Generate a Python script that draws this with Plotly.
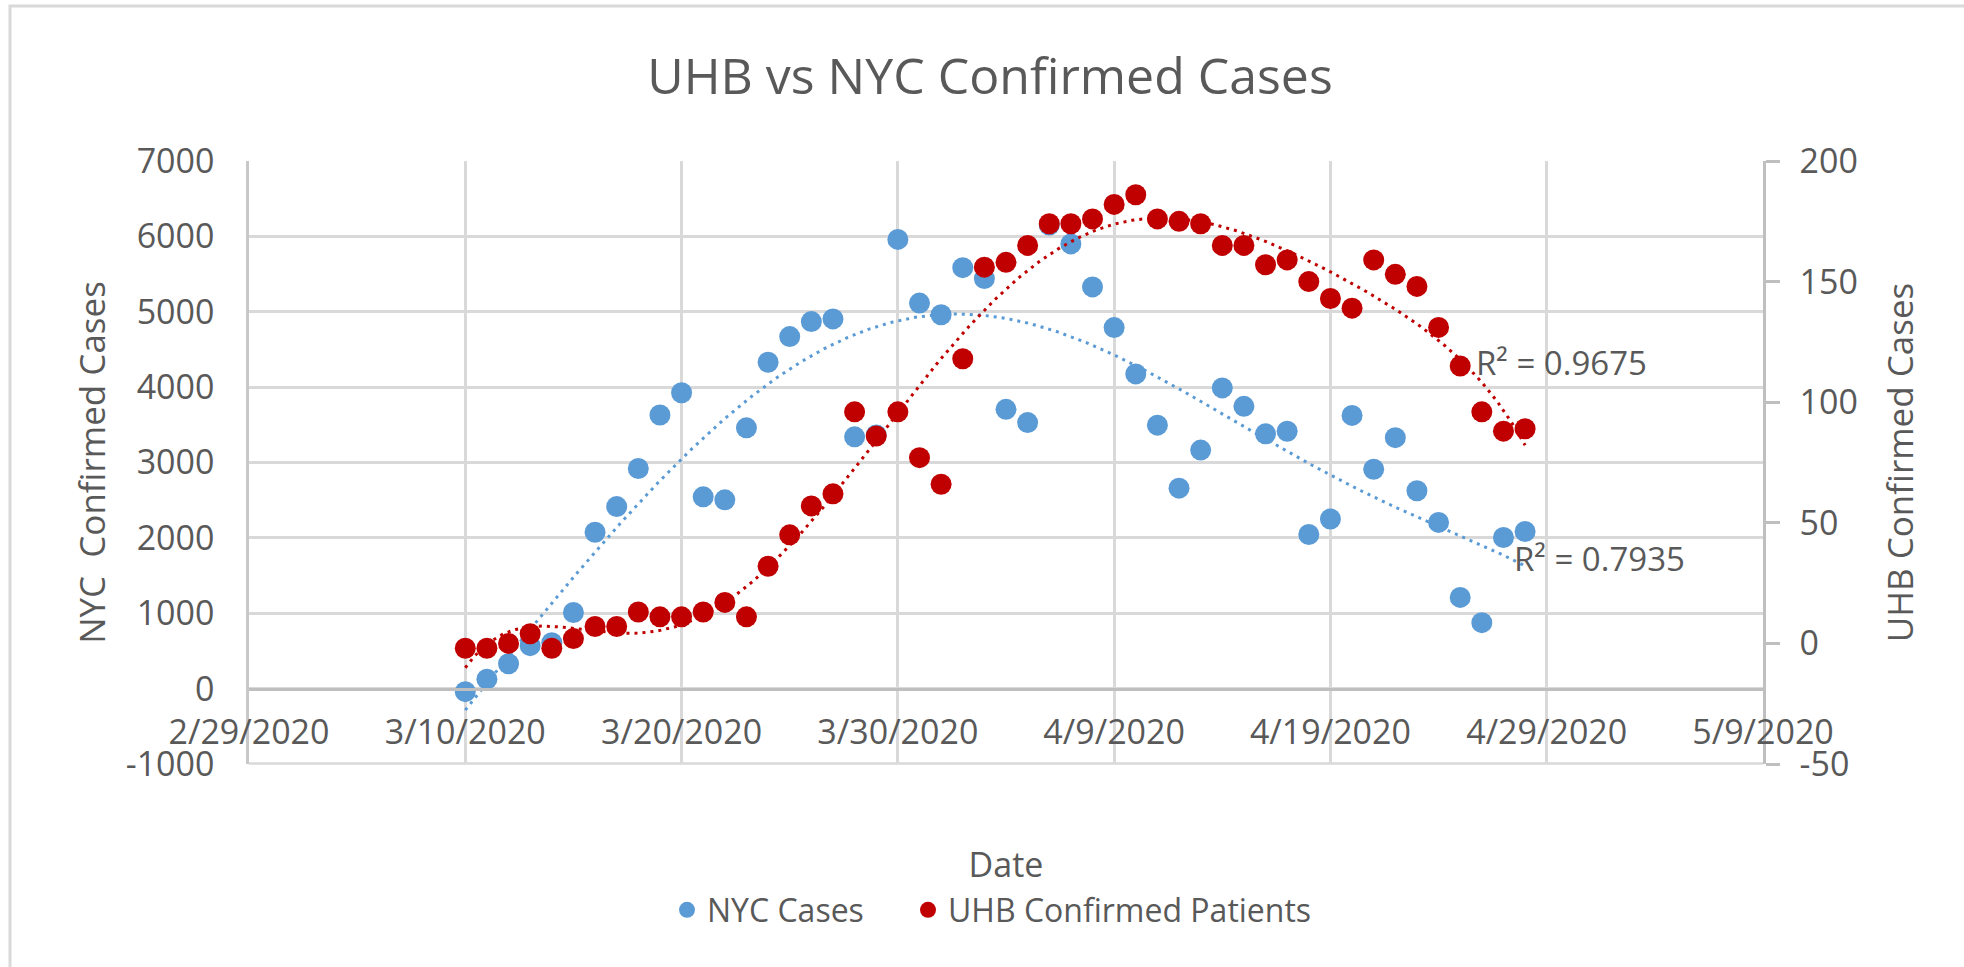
import numpy as np
import pandas as pd
import plotly.graph_objects as go

# ---------------- data ----------------
dates = [
    "2020-03-10", "2020-03-11", "2020-03-12", "2020-03-13", "2020-03-14", "2020-03-15",
    "2020-03-16", "2020-03-17", "2020-03-18", "2020-03-19", "2020-03-20", "2020-03-21",
    "2020-03-22", "2020-03-23", "2020-03-24", "2020-03-25", "2020-03-26", "2020-03-27",
    "2020-03-28", "2020-03-29", "2020-03-30", "2020-03-31", "2020-04-01", "2020-04-02",
    "2020-04-03", "2020-04-04", "2020-04-05", "2020-04-06", "2020-04-07", "2020-04-08",
    "2020-04-09", "2020-04-10", "2020-04-11", "2020-04-12", "2020-04-13", "2020-04-14",
    "2020-04-15", "2020-04-16", "2020-04-17", "2020-04-18", "2020-04-19", "2020-04-20",
    "2020-04-21", "2020-04-22", "2020-04-23", "2020-04-24", "2020-04-25", "2020-04-26",
    "2020-04-27", "2020-04-28",
]

nyc_cases = [
    -40, 125, 330, 570, 610, 1010, 2075, 2415, 2920, 3630, 3925, 2545,
    2505, 3460, 4330, 4670, 4870, 4905, 3340, 3365, 5960, 5115, 4960, 5585,
    5440, 3705, 3530, 6150, 5900, 5330, 4790, 4175, 3495, 2660, 3165, 3990,
    3745, 3380, 3415, 2045, 2250, 3625, 2910, 3330, 2625, 2205, 1210, 875,
    2005, 2085,
]

uhb_patients = [
    -2, -2, 0, 4, -2, 2, 7, 7, 13, 11, 11, 13,
    17, 11, 32, 45, 57, 62, 96, 86, 96, 77, 66, 118,
    156, 158, 165, 174, 174, 176, 182, 186, 176, 175, 174, 165,
    165, 157, 159, 150, 143, 139, 159, 153, 148, 131, 115, 96,
    88, 89,
]

x_tick_dates = ["2020-02-29", "2020-03-10", "2020-03-20", "2020-03-30",
                "2020-04-09", "2020-04-19", "2020-04-29", "2020-05-09"]
x_tick_labels = ["2/29/2020", "3/10/2020", "3/20/2020", "3/30/2020",
                 "4/9/2020", "4/19/2020", "4/29/2020", "5/9/2020"]

y_tick_vals = [-1000, 0, 1000, 2000, 3000, 4000, 5000, 6000, 7000]
y_tick_labels = ["-1000", "0", "1000", "2000", "3000", "4000", "5000", "6000", "7000"]
y2_tick_vals = [-50, 0, 50, 100, 150, 200]
y2_tick_labels = ["-50", "0", "50", "100", "150", "200"]

series_names = ["NYC Cases", "UHB Confirmed Patients"]
r2_texts = ["R\u00b2 = 0.9675", "R\u00b2 = 0.7935"]
trend_order = 6

BLUE = "#5B9BD5"
RED = "#C00000"
TXT = "#595959"
GRID = "#D9D9D9"
AXIS = "#BFBFBF"
FONT = "Open Sans"
TICK = 34

# ---------------- polynomial trendlines (as Excel does) ----------------
d = pd.to_datetime(dates)
t = np.asarray((d - d[0]).days, dtype=float)


def trend(y, order):
    y = np.asarray(y, dtype=float)
    c = np.polyfit(t, y, order)
    tt = np.linspace(t.min(), t.max(), 400)
    xx = d[0] + pd.to_timedelta(tt, unit="D")
    return xx, np.polyval(c, tt)


bx, by = trend(nyc_cases, trend_order)
rx, ry = trend(uhb_patients, trend_order)

fig = go.Figure()
fig.add_trace(go.Scatter(x=dates, y=nyc_cases, mode="markers", name=series_names[0],
                         marker=dict(color=BLUE, size=21), yaxis="y", legend="legend"))
fig.add_trace(go.Scatter(x=bx, y=by, mode="lines", showlegend=False, hoverinfo="skip",
                         line=dict(color=BLUE, width=3, dash="3px,5px"), yaxis="y"))
fig.add_trace(go.Scatter(x=dates, y=uhb_patients, mode="markers", name=series_names[1],
                         marker=dict(color=RED, size=21), yaxis="y2", legend="legend2"))
fig.add_trace(go.Scatter(x=rx, y=ry, mode="lines", showlegend=False, hoverinfo="skip",
                         line=dict(color=RED, width=3, dash="3px,5px"), yaxis="y2"))

L, R, T, B = 249, 1763, 161, 764
W, H = 1964, 967
pw, ph = R - L, B - T


def px(xp):
    return (xp - L) / pw


def py(yp):
    return (B - yp) / ph


leg_common = dict(orientation="h", xanchor="left", yanchor="middle",
                  font=dict(size=32, color=TXT, family=FONT), bgcolor="rgba(0,0,0,0)")

fig.update_layout(
    width=W, height=H,
    margin=dict(l=L, r=W - R, t=T, b=H - B, pad=0, autoexpand=False),
    paper_bgcolor="white", plot_bgcolor="white",
    font=dict(family=FONT, color=TXT, size=TICK),
    title=dict(text="UHB vs NYC Confirmed Cases", x=990 / W, xref="container",
               y=1 - 76 / H, yref="container", xanchor="center", yanchor="middle",
               font=dict(family=FONT, size=50, color=TXT)),
    xaxis=dict(type="date", range=[x_tick_dates[0], x_tick_dates[-1]],
               tickmode="array", tickvals=x_tick_dates, ticktext=x_tick_labels,
               showgrid=True, gridcolor=GRID, gridwidth=2.5,
               anchor="free", position=0.125,
               showline=True, linecolor=AXIS, linewidth=2.5,
               ticks="", ticklabelstandoff=13,
               tickfont=dict(size=TICK, color=TXT),
               title=dict(text="Date", font=dict(size=34, color=TXT), standoff=100),
               zeroline=False),
    # plain frame line along the bottom of the plot area (the -1000 gridline)
    xaxis2=dict(type="date", range=[x_tick_dates[0], x_tick_dates[-1]],
                overlaying="x", anchor="y", side="bottom",
                showline=True, linecolor=GRID, linewidth=2.5,
                showgrid=False, zeroline=False, showticklabels=False, ticks=""),
    yaxis=dict(range=[-1000, 7000], tickmode="array", tickvals=y_tick_vals,
               ticktext=y_tick_labels,
               showgrid=True, gridcolor=GRID, gridwidth=2.5,
               zeroline=False, showline=True, linecolor="#C8C8C8", linewidth=2.5,
               ticks="", ticklabelstandoff=25,
               tickfont=dict(size=TICK, color=TXT),
               title=dict(text="NYC\u00a0 Confirmed Cases", font=dict(size=35, color=TXT),
                          standoff=10)),
    yaxis2=dict(range=[-50, 200], tickmode="array", tickvals=y2_tick_vals,
                ticktext=y2_tick_labels, overlaying="y", side="right",
                showgrid=False, zeroline=False, showline=True, linecolor=AXIS,
                linewidth=2.5, ticks="outside", ticklen=14, tickwidth=2.5,
                tickcolor=AXIS, ticklabelstandoff=13,
                tickfont=dict(size=TICK, color=TXT),
                title=dict(text="UHB Confirmed Cases", font=dict(size=35, color=TXT),
                           standoff=32)),
    legend=dict(x=px(667), y=py(910), **leg_common),
    legend2=dict(x=px(908), y=py(910), **leg_common),
    showlegend=True,
)

fig.add_annotation(text=r2_texts[0], xref="paper", yref="paper", x=px(1474), y=py(362),
                   xanchor="left", yanchor="middle", showarrow=False,
                   font=dict(size=33, color=TXT))
fig.add_annotation(text=r2_texts[1], xref="paper", yref="paper", x=px(1512), y=py(558),
                   xanchor="left", yanchor="middle", showarrow=False,
                   font=dict(size=33, color=TXT))

# bottom gridline of the plot area, drawn as a frame line too
fig.add_shape(type="line", xref="paper", yref="paper", x0=0, x1=1, y0=0.001, y1=0.001,
              line=dict(color=GRID, width=2.5), layer="above")

# chart-area border
fig.add_shape(type="rect", xref="paper", yref="paper",
              x0=px(10), x1=px(2100), y0=py(1100), y1=py(6),
              line=dict(color=GRID, width=3), fillcolor="rgba(0,0,0,0)", layer="below")

fig.write_html("out.html", config={"displayModeBar": False},
               post_script="document.body.style.margin='0px';")
